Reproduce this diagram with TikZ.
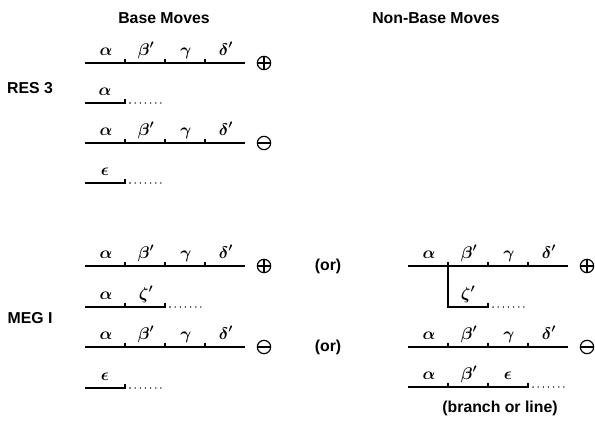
\documentclass[tikz,border=0pt]{standalone}
\usepackage{fontspec}
\setmainfont{Liberation Sans}
\usepackage{amsmath}
\usetikzlibrary{positioning}

\begin{document}
\begin{tikzpicture}[x=0.03cm, y=-0.03cm,
	wire/.style={line width=1.1pt},
	dots/.style={line width=1.3pt, line cap=round, dash pattern=on 0pt off 4.4pt},
	lbl/.style={anchor=base, inner sep=0pt, font=\fontsize{14}{16}\selectfont\boldmath},
	txt/.style={inner sep=0pt, font=\fontsize{13.5}{15}\selectfont\bfseries},
	plus/.style={circle, draw, line width=1pt, minimum size=0.4cm, inner sep=0pt,
		path picture={\draw[line width=1pt] (path picture bounding box.north) -- (path picture bounding box.south)
			(path picture bounding box.west) -- (path picture bounding box.east);}},
	minus/.style={circle, draw, line width=1pt, minimum size=0.4cm, inner sep=0pt,
		path picture={\draw[line width=1pt] (path picture bounding box.west) -- (path picture bounding box.east);}}]
		\useasboundingbox (0, 0) rectangle (595, 421);
		% Headings:
		\node[txt] (base) at (164, 18){Base Moves};
		\node[txt] (nonbase) at (436, 18){Non-Base Moves};
		\node[txt] (res) at (30, 88){RES 3};
		\node[txt] (meg) at (30, 318){MEG I};
		% Full moves, left and right:
		\foreach \dx/\y/\s [count=\i] in {0/63/plus, 0/143/minus, 0/266/plus, 0/347/minus, 323/266/plus, 323/347/minus}{
			\draw[wire] (85+\dx, \y) coordinate (s\i) -- (245+\dx, \y) coordinate (e\i);
			\foreach \x in {125, 165, 205} \draw[wire] (\x+\dx, \y) -- ++(0, -4);
			\node[lbl] (a\i) at (106+\dx, \y-8){$\alpha$};
			\node[lbl] (b\i) at (146+\dx, \y-8){$\beta'$};
			\node[lbl] (g\i) at (186+\dx, \y-8){$\gamma$};
			\node[lbl] (d\i) at (226+\dx, \y-8){$\delta'$};
			\node[\s] (sg\i) at (264+\dx, \y){};
		}
		% Cut moves:
		\foreach \y/\l [count=\i] in {103/\alpha, 183/\epsilon, 388/\epsilon}{
			\draw[wire] (85, \y) coordinate (cs\i) -- (125, \y) coordinate (ce\i) -- ++(0, -4);
			\node[lbl] (c\i) at (105, \y-8){$\l$};
			\draw[dots] (130, \y) -- (166, \y);
		}
		\draw[wire] (85, 307) coordinate (zs) -- (165, 307) coordinate (ze) -- ++(0, -4);
		\draw[wire] (125, 307) -- ++(0, -4);
		\node[lbl] (za) at (106, 299){$\alpha$};
		\node[lbl] (zz) at (146, 299){$\zeta'$};
		\draw[dots] (170, 307) -- (205, 307);
		% Branch:
		\draw[wire] (448, 266) coordinate (br) |- (488, 307) coordinate (bre) -- ++(0, -4);
		\node[lbl] (bz) at (468, 299){$\zeta'$};
		\draw[dots] (493, 307) -- (528, 307);
		% Line:
		\draw[wire] (408, 387) coordinate (ls) -- (528, 387) coordinate (le) -- ++(0, -4);
		\foreach \x in {448, 488} \draw[wire] (\x, 387) -- ++(0, -4);
		\node[lbl] (la) at (429, 379){$\alpha$};
		\node[lbl] (lb) at (469, 379){$\beta'$};
		\node[lbl] (lc) at (508, 379){$\epsilon$};
		\draw[dots] (533, 387) -- (568, 387);
		\node[txt] (or1) at (328, 266){(or)};
		\node[txt] (or2) at (328, 347){(or)};
		\node[txt] (bol) at (500, 408){(branch or line)};
	\end{tikzpicture}
\end{document}
